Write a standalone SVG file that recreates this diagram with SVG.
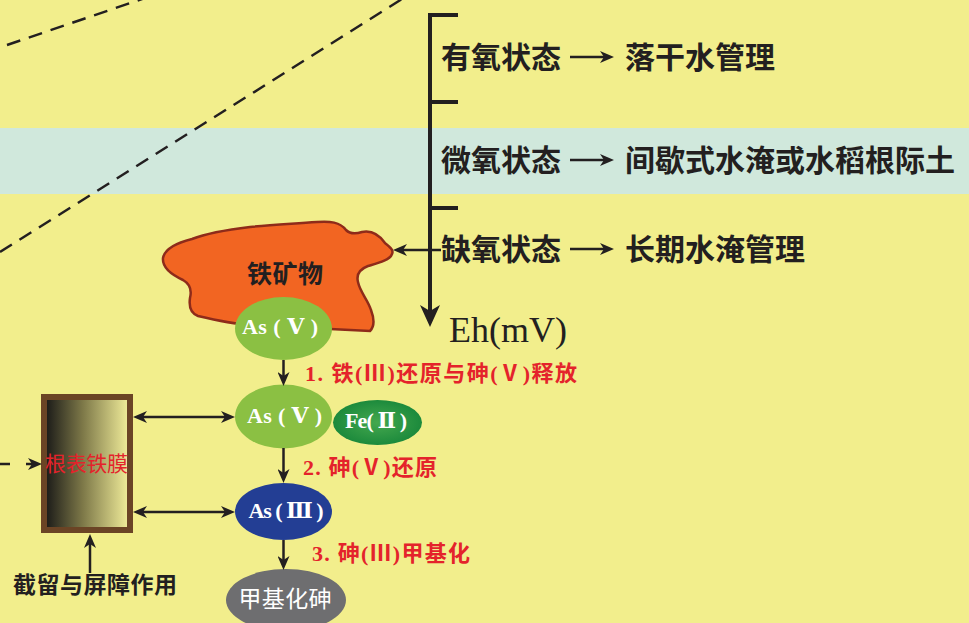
<svg xmlns="http://www.w3.org/2000/svg" width="969" height="623" viewBox="0 0 969 623">
<style>
.ln{stroke:#231F20;fill:none;stroke-width:2.5}
.cn{font-family:"Noto Sans CJK SC","Noto Sans",sans-serif;font-weight:bold;fill:#231F20}
.red{font-family:"Liberation Serif","Noto Sans CJK SC",serif;font-weight:bold;fill:#E4232B;font-size:22px}
.wt{font-family:"Liberation Serif","DejaVu Serif","Noto Sans CJK SC",serif;font-weight:bold;fill:#FFFFFF;font-size:22px;text-anchor:middle}
</style>
<defs>
<marker id="a1" markerUnits="userSpaceOnUse" markerWidth="14" markerHeight="12" refX="4" refY="6" orient="auto-start-reverse" viewBox="0 0 14 12"><path d="M0,0 L14,6 L0,12 L4,6 Z" fill="#231F20"/></marker>
<marker id="a2" markerUnits="userSpaceOnUse" markerWidth="22" markerHeight="20" refX="6" refY="10" orient="auto" viewBox="0 0 22 20"><path d="M0,0 L22,10 L0,20 L6,10 Z" fill="#231F20"/></marker>
<linearGradient id="gRoot" x1="0" y1="0" x2="1" y2="0"><stop offset="0" stop-color="#161616"/><stop offset="0.45" stop-color="#7d7848"/><stop offset="1" stop-color="#F4F09C"/></linearGradient>
<radialGradient id="gFe" cx="0.5" cy="0.5" r="0.5"><stop offset="0" stop-color="#45A84E"/><stop offset="1" stop-color="#1C8A3C"/></radialGradient>
</defs>
<rect x="0" y="0" width="969" height="623" fill="#F2EE8C"/>
<rect x="0" y="128" width="969" height="66" fill="#D0E8DC"/>
<g id="dashed-lines" class="ln" stroke-dasharray="14 9">
<path d="M7,45 L145,-2"/>
<path d="M0,252 L410,-6"/>
</g>
<g id="axis">
<path d="M458,15 H430 V311" stroke="#231F20" stroke-width="4" fill="none" marker-end="url(#a2)"/>
<path d="M430,102 H458 M430,208 H458" stroke="#231F20" stroke-width="4"/>
<text x="449" y="342" font-family="Liberation Serif,serif" font-size="36" fill="#231F20">Eh(mV)</text>
</g>
<g id="row-aerobic">
<text class="cn" x="441" y="68" font-size="30">有氧状态</text>
<text class="cn" x="625" y="68" font-size="30">落干水管理</text>
</g>
<g id="row-microaerobic">
<text class="cn" x="441" y="171" font-size="30">微氧状态</text>
<text class="cn" x="625" y="171" font-size="30">间歇式水淹或水稻根际土</text>
</g>
<g id="row-anoxic">
<text class="cn" x="441" y="260" font-size="30">缺氧状态</text>
<text class="cn" x="625" y="260" font-size="30">长期水淹管理</text>
</g>
<g id="iron-mineral">
<path d="M163,258 C165,248 180,242 192,239 C205,234 225,230 250,227 C270,225 290,224 317,222 C330,221 340,222 346,230 C350,234 356,234 362,232 C372,230 380,236 385,243 C390,247 394,250 392,254 C390,260 378,263 368,266 C360,269 356,274 358,282 C360,292 368,300 371,310 C374,318 375,326 370,331 L330,329 C300,327 270,326 250,325 C235,324 215,320 198,316 C190,313 189,305 190,298 C192,290 190,284 183,280 C172,275 162,268 163,258 Z" fill="#F26522" stroke="#8E2B1A" stroke-width="2.5"/>
<text class="cn" x="247" y="283" font-size="25" textLength="76">铁矿物</text>
</g>
<g id="asv-1">
<ellipse cx="283.5" cy="328.5" rx="48.5" ry="31.5" fill="#8BC043"/>
<text class="wt" x="280" y="334" textLength="76">As ( Ⅴ )</text>
</g>
<g id="asv-2">
<ellipse cx="283.5" cy="416.5" rx="48.5" ry="32" fill="#8BC043"/>
<text class="wt" x="284.5" y="423" textLength="75">As ( Ⅴ )</text>
</g>
<g id="fe-ii">
<ellipse cx="377.5" cy="422.5" rx="44.5" ry="22.5" fill="url(#gFe)"/>
<text class="wt" x="376" y="428" font-size="20" textLength="62">Fe( Ⅱ )</text>
</g>
<g id="asiii">
<ellipse cx="283.5" cy="511.5" rx="48.5" ry="28.5" fill="#233E94"/>
<text class="wt" x="286" y="518" textLength="75">As ( Ⅲ )</text>
</g>
<g id="methyl-as">
<ellipse cx="286" cy="600" rx="60" ry="31" fill="#6E6E70"/>
<text x="285" y="607" font-family="Noto Sans CJK SC,sans-serif" font-size="23" fill="#FFFFFF" text-anchor="middle" textLength="93">甲基化砷</text>
</g>
<g id="root-plaque">
<rect x="44" y="397" width="86" height="133" fill="url(#gRoot)" stroke="#6B4425" stroke-width="6"/>
<text x="45" y="471" font-family="Noto Sans CJK SC,sans-serif" font-size="21" fill="#E4232B" textLength="83">根表铁膜</text>
</g>
<g id="retention-label">
<text class="cn" x="13" y="593" font-size="23" textLength="164">截留与屏障作用</text>
</g>
<g id="step-labels">
<text class="red" x="305" y="381" textLength="272">1. 铁(Ⅲ)还原与砷(Ⅴ)释放</text>
<text class="red" x="303" y="475" textLength="134">2. 砷(Ⅴ)还原</text>
<text class="red" x="312" y="561" textLength="158">3. 砷(Ⅲ)甲基化</text>
</g>
<g id="connectors" class="ln">
<path d="M441,250 H403" marker-end="url(#a1)"/>
<path d="M570,57 H604" marker-end="url(#a1)"/>
<path d="M570,160 H604" marker-end="url(#a1)"/>
<path d="M570,249 H604" marker-end="url(#a1)"/>
<path d="M283.5,360 V376" marker-end="url(#a1)"/>
<path d="M283.5,448 V473" marker-end="url(#a1)"/>
<path d="M283.5,540 V560" marker-end="url(#a1)"/>
<path d="M143,417 H225" marker-start="url(#a1)" marker-end="url(#a1)"/>
<path d="M143,512 H225" marker-start="url(#a1)" marker-end="url(#a1)"/>
<path d="M90,573 V544" marker-end="url(#a1)"/>
<path d="M0,464 H32" stroke-dasharray="10 16" marker-end="url(#a1)"/>
</g>
</svg>
